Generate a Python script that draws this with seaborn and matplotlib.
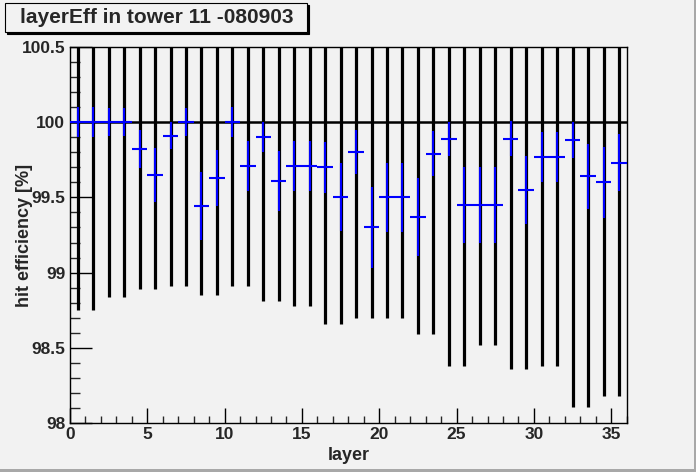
import numpy as np
import matplotlib
matplotlib.use("Agg")
import matplotlib.pyplot as plt
import seaborn as sns
from matplotlib.patches import Rectangle
from matplotlib.ticker import MultipleLocator

# layer bins 0..35
layers = np.arange(36) + 0.5

# reference histogram at 100 % with its big error bars (lower end read)
ref_value = [100.0] * 36
ref_low = [98.75, 98.75, 98.84, 98.84, 98.89, 98.89, 98.91, 98.91, 98.85, 98.85,
           98.91, 98.91, 98.81, 98.81, 98.78, 98.78, 98.66, 98.66, 98.70, 98.70,
           98.70, 98.70, 98.59, 98.59, 98.38, 98.38, 98.52, 98.52, 98.36, 98.36,
           98.38, 98.38, 98.11, 98.11, 98.18, 98.18]

# measured efficiency per layer
eff = [100.0, 100.0, 100.0, 100.0, 99.82, 99.65, 99.91, 100.0, 99.44, 99.63,
       100.0, 99.71, 99.90, 99.61, 99.71, 99.71, 99.70, 99.50, 99.80, 99.30,
       99.50, 99.50, 99.37, 99.79, 99.89, 99.45, 99.45, 99.45, 99.89, 99.55,
       99.77, 99.77, 99.88, 99.64, 99.60, 99.73]
eff_err = [0.10, 0.10, 0.095, 0.095, 0.125, 0.18, 0.09, 0.09, 0.225, 0.185,
           0.10, 0.165, 0.10, 0.20, 0.165, 0.165, 0.17, 0.225, 0.145, 0.27,
           0.23, 0.23, 0.26, 0.15, 0.113, 0.25, 0.25, 0.25, 0.115, 0.225,
           0.166, 0.166, 0.12, 0.215, 0.235, 0.19]

ytick_vals = [98, 98.5, 99, 99.5, 100, 100.5]
ytick_labels = ["98", "98.5", "99", "99.5", "100", "100.5"]
xtick_vals = [0, 5, 10, 15, 20, 25, 30, 35]

bg = "#f2f2f2"
sns.set_style("ticks")
plt.rcParams["font.family"] = ["Liberation Sans", "DejaVu Sans"]
plt.rcParams["font.weight"] = "bold"

W, H = 696, 472
fig = plt.figure(figsize=(W / 100, H / 100), dpi=100, facecolor=bg)
ax_bottom = 423.3
ax_h = 376.6
ax_w = 556.7
ax = fig.add_axes([70 / W, 1 - ax_bottom / H, ax_w / W, ax_h / H])
ax.set_facecolor(bg)

ref_err = np.array(ref_value) - np.array(ref_low)
ax.errorbar(layers, ref_value, yerr=ref_err, fmt="none", ecolor="black",
            elinewidth=2.3, capsize=0, zorder=2)
ax.stairs(ref_value, np.arange(37), color="black", linewidth=1.8,
          baseline=None, zorder=3)
ax.errorbar(layers, eff, xerr=0.5, yerr=eff_err, fmt="none", ecolor="#0000ff",
            elinewidth=1.5, capsize=0, zorder=4)

ax.set_xlim(0, 36)
ax.set_ylim(98, 100.5)
ax.set_yticks(ytick_vals)
ax.set_yticklabels(ytick_labels)
ax.set_xticks(xtick_vals)
ax.yaxis.set_minor_locator(MultipleLocator(0.1))
ax.xaxis.set_minor_locator(MultipleLocator(1))
ax.tick_params(axis="both", which="major", direction="in", color="black",
               labelsize=12.5, width=1)
ax.tick_params(axis="y", which="major", length=16, pad=3.5)
ax.tick_params(axis="y", which="minor", direction="in", length=7, width=1)
ax.tick_params(axis="x", which="major", length=11, pad=2.5)
ax.tick_params(axis="x", which="minor", direction="in", length=5, width=1)
for lab in ax.get_xticklabels() + ax.get_yticklabels():
    lab.set_fontweight("bold")
for s in ax.spines.values():
    s.set_visible(True)
    s.set_linewidth(1.0)
    s.set_color("black")

ax.set_xlabel("layer", fontsize=13, fontweight="bold")
ax.set_ylabel("hit efficiency [%]", fontsize=13, fontweight="bold")
ax.xaxis.set_label_coords(0.5, (ax_bottom - 447) / ax_h)
ax.yaxis.set_label_coords((33 - 70) / ax_w, 0.5)

# title box with ROOT-style shadow
shadow = Rectangle((7 / W, 1 - 34 / H), 302 / W, 29 / H, transform=fig.transFigure,
                   facecolor="black", edgecolor="black", lw=0.8)
box = Rectangle((5 / W, 1 - 32 / H), 302 / W, 29 / H, transform=fig.transFigure,
                facecolor=bg, edgecolor="black", lw=0.8)
fig.patches.extend([shadow, box])
fig.text(156.5 / W, 1 - 23 / H, "layerEff in tower 11 -080903", ha="center",
         va="baseline", fontsize=15, fontweight="bold")

# window border on right and bottom
fig.patches.append(Rectangle((694 / W, 0), 2 / W, 1, transform=fig.transFigure,
                             facecolor="#a8a8a8", edgecolor="none"))
fig.patches.append(Rectangle((0, 0), 1, 3 / H, transform=fig.transFigure,
                             facecolor="#a8a8a8", edgecolor="none"))

fig.savefig("out.png", dpi=100, facecolor=bg)
